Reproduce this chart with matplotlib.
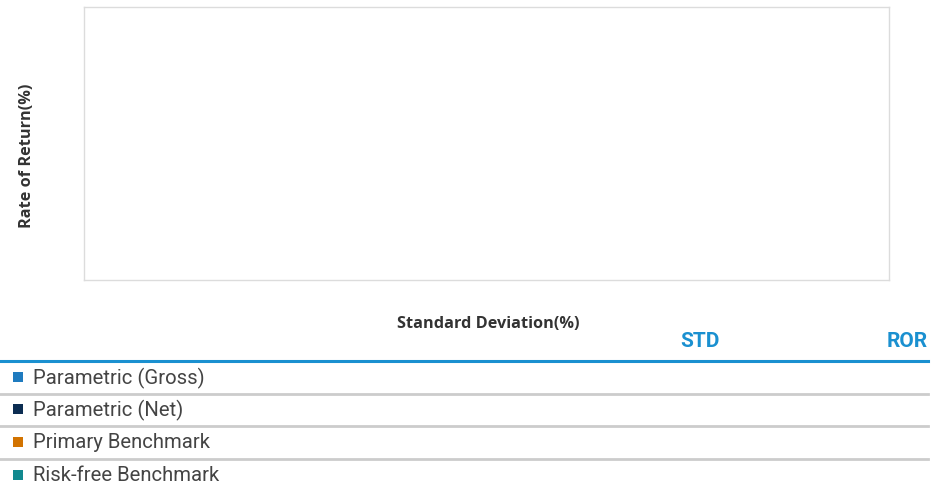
import matplotlib
matplotlib.use('Agg')
import matplotlib.pyplot as plt
from matplotlib.lines import Line2D
from matplotlib.patches import Rectangle

# Series shown in the legend table (no values present in the chart)
series_names = ["Parametric (Gross)", "Parametric (Net)", "Primary Benchmark", "Risk-free Benchmark"]
series_colors = ["#1f7bbf", "#0c2d52", "#d27300", "#11898f"]
std_values = [None, None, None, None]
ror_values = [None, None, None, None]
table_headers = ["STD", "ROR"]

W, H = 948, 489


def fx(px):
    return px / W


def fy(py):
    return 1 - py / H


fig = plt.figure(figsize=(W / 100, H / 100), dpi=100, facecolor='white')

# Empty scatter area
ax = fig.add_axes([fx(84), fy(281), fx(889) - fx(84), fy(8) - fy(281)])
for x, y, c in zip(std_values, ror_values, series_colors):
    if x is not None and y is not None:
        ax.scatter(x, y, color=c, s=60)
ax.set_xticks([])
ax.set_yticks([])
for s in ax.spines.values():
    s.set_color('#dcdcdc')
    s.set_linewidth(1)

fig.text(fx(27), fy(156), "Rate of Return(%)", rotation=90, ha='center', va='center',
         fontsize=11.7, fontweight='bold', color='#333333', family='Open Sans')
fig.text(fx(488), fy(324), "Standard Deviation(%)", ha='center', va='center',
         fontsize=11.7, fontweight='bold', color='#333333', family='Open Sans')

# Table header
blue = '#1a90d0'
fig.text(fx(700), fy(342), table_headers[0], ha='center', va='center',
         fontsize=15, fontweight='bold', color=blue, family='Roboto')
fig.text(fx(928), fy(342), table_headers[1], ha='right', va='center',
         fontsize=15, fontweight='bold', color=blue, family='Roboto')
fig.add_artist(Line2D([0, fx(928)], [fy(362), fy(362)], color=blue, lw=2.2))

row_y = [378, 410, 443, 476]
for i, (name, c) in enumerate(zip(series_names, series_colors)):
    y = row_y[i]
    fig.add_artist(Rectangle((fx(13), fy(y + 5)), fx(10), fy(y - 5) - fy(y + 5),
                             facecolor=c, edgecolor='none', transform=fig.transFigure))
    fig.text(fx(33), fy(y), name, ha='left', va='center', fontsize=14.6,
             color='#444444', family='Roboto')
    if std_values[i] is not None:
        fig.text(fx(700), fy(y), f"{std_values[i]:.2f}", ha='center', va='center',
                 fontsize=14.6, color='#444444', family='Roboto')
    if ror_values[i] is not None:
        fig.text(fx(928), fy(y), f"{ror_values[i]:.2f}", ha='right', va='center',
                 fontsize=14.6, color='#444444', family='Roboto')
    if i < len(series_names) - 1:
        fig.add_artist(Line2D([0, fx(928)], [fy(y + 17), fy(y + 17)], color='#cccccc', lw=2))

fig.savefig('out.png', dpi=100, facecolor='white')
